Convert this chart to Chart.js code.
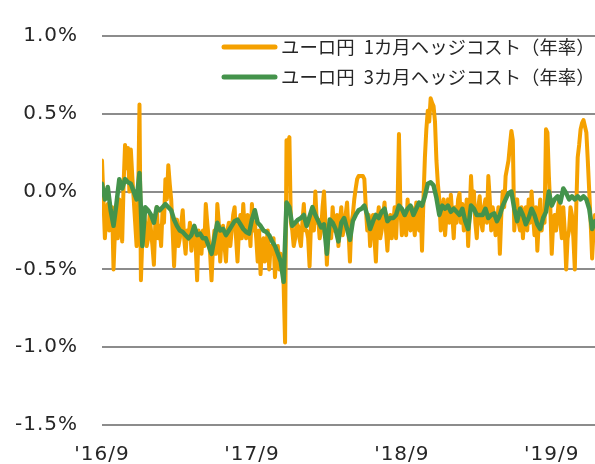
<!DOCTYPE html>
<html lang="ja">
<head>
<meta charset="utf-8">
<script src="https://cdn.jsdelivr.net/npm/chart.js@4"></script>
<style>
html, body { margin: 0; padding: 0; background: #fff; }
#wrap { width: 595px; height: 464px; position: relative; }
</style>
</head>
<body>
<div id="wrap"><canvas id="hedgeChart"></canvas></div>
<script>
// 2016/9 .. 2019/12, in %. x is weeks from '16/9
const seriesNames = ['ユーロ円\u20021カ月ヘッジコスト（年率）', 'ユーロ円\u20023カ月ヘッジコスト（年率）'];
const xTickLabels = ["'16/9", "'17/9", "'18/9", "'19/9"];
const xTickWeeks = [0, 52, 104, 156];
const yTicks = [-1.5, -1.0, -0.5, 0.0, 0.5, 1.0];

// 1M: read every half week
const hedge1m = [
	0.20, -0.05, -0.30, -0.15, -0.08, -0.25, -0.18, -0.10, -0.50, -0.25,
	-0.12, -0.30, -0.05, -0.15, -0.32, 0.05, 0.30, 0.15, 0.28, 0.00,
	0.27, 0.10, -0.05, -0.20, -0.35, -0.10, 0.56, -0.57, -0.30, -0.15,
	-0.20, -0.35, -0.30, -0.15, -0.25, -0.35, -0.47, -0.20, -0.10, -0.30,
	-0.22, -0.35, -0.12, -0.20, 0.08, -0.05, 0.17, 0.05, -0.05, -0.25,
	-0.48, -0.25, -0.18, -0.35, -0.30, -0.20, -0.12, -0.30, -0.40, -0.25,
	-0.30, -0.20, -0.38, -0.28, -0.25, -0.35, -0.57, -0.25, -0.32, -0.40,
	-0.25, -0.35, -0.08, -0.20, -0.30, -0.40, -0.57, -0.35, -0.25, -0.40,
	-0.08, -0.20, -0.45, -0.30, -0.22, -0.35, -0.45, -0.25, -0.20, -0.35,
	-0.25, -0.15, -0.10, -0.30, -0.45, -0.25, -0.15, -0.30, -0.08, -0.25,
	-0.30, -0.15, -0.20, -0.35, -0.08, -0.25, -0.20, -0.30, -0.45, -0.25,
	-0.53, -0.35, -0.30, -0.45, -0.35, -0.25, -0.50, -0.35, -0.40, -0.30,
	-0.55, -0.40, -0.35, -0.50, -0.40, -0.45, -0.60, -0.97, 0.33, 0.30,
	0.35, -0.20, -0.25, -0.35, -0.30, -0.20, -0.22, -0.30, -0.35, -0.20,
	-0.08, -0.25, -0.25, -0.30, -0.48, -0.20, -0.15, -0.25, 0.00, -0.20,
	-0.18, -0.30, -0.25, -0.10, 0.00, -0.20, -0.47, -0.25, -0.20, -0.30,
	-0.10, -0.25, -0.25, -0.15, -0.35, -0.20, -0.10, -0.28, -0.22, -0.15,
	-0.07, -0.25, -0.45, -0.20, -0.15, -0.05, 0.02, 0.08, 0.10, 0.10,
	0.10, 0.10, 0.08, -0.10, -0.25, -0.15, -0.35, -0.20, -0.15, -0.30,
	-0.45, -0.20, -0.10, -0.30, -0.25, -0.15, -0.07, -0.25, -0.38, -0.20,
	-0.15, -0.30, -0.22, -0.10, -0.30, -0.10, 0.37, -0.10, -0.28, -0.20,
	-0.15, -0.28, -0.05, -0.20, -0.25, -0.10, -0.20, -0.28, -0.07, -0.20,
	-0.25, -0.10, -0.38, -0.05, 0.22, 0.40, 0.52, 0.45, 0.60, 0.57,
	0.55, 0.45, 0.20, 0.05, -0.05, -0.25, -0.15, -0.05, -0.28, -0.15,
	-0.05, -0.20, -0.02, -0.15, -0.30, -0.10, -0.20, -0.05, -0.01, -0.20,
	-0.08, -0.25, -0.18, -0.05, -0.35, -0.15, 0.10, -0.10, 0.00, -0.20,
	-0.30, -0.10, -0.03, -0.20, -0.25, -0.10, -0.05, -0.20, 0.10, -0.05,
	-0.25, -0.10, -0.15, -0.28, -0.22, -0.10, -0.40, -0.15, 0.00, -0.10,
	0.10, 0.15, 0.20, 0.30, 0.39, 0.33, -0.25, -0.10, -0.05, -0.20,
	-0.25, -0.10, -0.30, -0.15, -0.10, -0.25, -0.05, -0.20, 0.00, -0.15,
	-0.28, -0.10, -0.38, -0.20, -0.05, -0.25, -0.15, -0.20, 0.40, 0.38,
	0.10, -0.10, -0.40, -0.20, -0.15, -0.25, -0.15, -0.05, -0.20, -0.30,
	-0.10, -0.25, -0.50, -0.30, -0.25, -0.10, -0.15, -0.30, -0.50, -0.10,
	0.22, 0.30, 0.40, 0.44, 0.46, 0.42, 0.38, 0.20, 0.00, -0.20,
	-0.43, -0.25, -0.15
];

// 3M: read every week
const hedge3m = [
	0.05, -0.05, 0.03, -0.12, -0.22, -0.08, 0.08, 0.02, 0.08, 0.06,
	0.05, 0.00, -0.05, 0.12, -0.35, -0.10, -0.12, -0.15, -0.20, -0.10,
	-0.12, -0.10, -0.08, -0.10, -0.12, -0.18, -0.22, -0.25, -0.26, -0.28,
	-0.30, -0.28, -0.22, -0.28, -0.27, -0.30, -0.30, -0.35, -0.40, -0.30,
	-0.20, -0.25, -0.24, -0.28, -0.25, -0.22, -0.19, -0.18, -0.21, -0.24,
	-0.26, -0.27, -0.18, -0.12, -0.20, -0.22, -0.25, -0.26, -0.28, -0.32,
	-0.35, -0.40, -0.45, -0.58, -0.07, -0.10, -0.22, -0.20, -0.18, -0.17,
	-0.15, -0.22, -0.16, -0.10, -0.15, -0.19, -0.23, -0.21, -0.40, -0.18,
	-0.20, -0.24, -0.32, -0.20, -0.17, -0.24, -0.31, -0.19, -0.15, -0.12,
	-0.11, -0.09, -0.15, -0.24, -0.19, -0.15, -0.17, -0.13, -0.11, -0.19,
	-0.17, -0.17, -0.15, -0.09, -0.11, -0.15, -0.11, -0.09, -0.15, -0.11,
	-0.07, -0.09, -0.03, 0.05, 0.06, 0.04, -0.04, -0.15, -0.09, -0.11,
	-0.09, -0.13, -0.11, -0.13, -0.15, -0.11, -0.19, -0.24, -0.09, -0.11,
	-0.15, -0.15, -0.15, -0.11, -0.17, -0.15, -0.14, -0.19, -0.15, -0.09,
	-0.05, -0.01, 0.00, -0.11, -0.19, -0.11, -0.15, -0.21, -0.17, -0.11,
	-0.15, -0.21, -0.24, -0.17, -0.13, 0.00, -0.09, -0.05, -0.03, -0.07,
	0.02, -0.01, -0.05, -0.03, -0.05, -0.03, -0.05, -0.03, -0.05, -0.11,
	-0.24, -0.19
];

const ORANGE = '#F5A100';
const GREEN = '#44934B';
const lastWeek = hedge3m.length - 1;

// Verdana-ish spacing for the axis numbers
const wideText = {
	id: 'wideText',
	beforeDraw(chart) { chart.ctx.letterSpacing = '1px'; }
};

const inlineLegend = {
	id: 'inlineLegend',
	afterDraw(chart) {
		const ctx = chart.ctx;
		const colors = [ORANGE, GREEN];
		ctx.save();
		ctx.letterSpacing = '0px';
		ctx.font = '18.4px "Noto Sans CJK JP"';
		ctx.textBaseline = 'middle';
		ctx.fillStyle = '#262626';
		seriesNames.forEach((name, i) => {
			const y = 47 + i * 30;
			ctx.strokeStyle = colors[i];
			ctx.lineWidth = 5;
			ctx.lineCap = 'round';
			ctx.beginPath();
			ctx.moveTo(224, y);
			ctx.lineTo(275, y);
			ctx.stroke();
			ctx.fillText(name, 281, y);
		});
		ctx.restore();
	}
};

new Chart(document.getElementById('hedgeChart').getContext('2d'), {
	type: 'line',
	data: {
		datasets: [{
			label: seriesNames[0],
			data: hedge1m.map((v, i) => ({ x: i / 2, y: v })),
			borderColor: ORANGE,
			backgroundColor: ORANGE,
			borderWidth: 4,
			borderJoinStyle: 'round',
			borderCapStyle: 'round',
			pointRadius: 0,
			tension: 0,
			order: 1
		}, {
			label: seriesNames[1],
			data: hedge3m.map((v, i) => ({ x: i, y: v })),
			borderColor: GREEN,
			backgroundColor: GREEN,
			borderWidth: 4.5,
			borderJoinStyle: 'round',
			borderCapStyle: 'round',
			pointRadius: 0,
			tension: 0,
			order: 0
		}]
	},
	options: {
		responsive: true,
		maintainAspectRatio: false,
		animation: false,
		parsing: false,
		layout: { padding: { top: 28, right: 0, bottom: 0, left: 0 } },
		plugins: { legend: { display: false }, tooltip: { enabled: false } },
		scales: {
			x: {
				type: 'linear',
				min: 0,
				max: lastWeek,
				grid: { display: false, drawTicks: false },
				border: { display: false },
				afterBuildTicks: (scale) => { scale.ticks = xTickWeeks.map(v => ({ value: v })); },
				afterFit: (scale) => {
					scale.height = 39;
					scale.paddingLeft = 0;
					scale.paddingRight = 0;
				},
				ticks: {
					maxRotation: 0,
					padding: 18,
					color: '#262626',
					font: { family: '"DejaVu Sans"', size: 20 },
					callback: (v) => xTickLabels[xTickWeeks.indexOf(v)]
				}
			},
			y: {
				min: yTicks[0],
				max: yTicks[yTicks.length - 1],
				afterFit: (scale) => { scale.width = 102; },
				afterBuildTicks: (scale) => { scale.ticks = yTicks.map(v => ({ value: v })); },
				grid: { color: '#8C8C8C', lineWidth: 2, drawTicks: false },
				border: { display: false },
				ticks: {
					padding: 24,
					color: '#262626',
					font: { family: '"DejaVu Sans"', size: 20 },
					callback: (v) => v.toFixed(1) + '%'
				}
			}
		}
	},
	plugins: [wideText, inlineLegend]
});
</script>
</body>
</html>
